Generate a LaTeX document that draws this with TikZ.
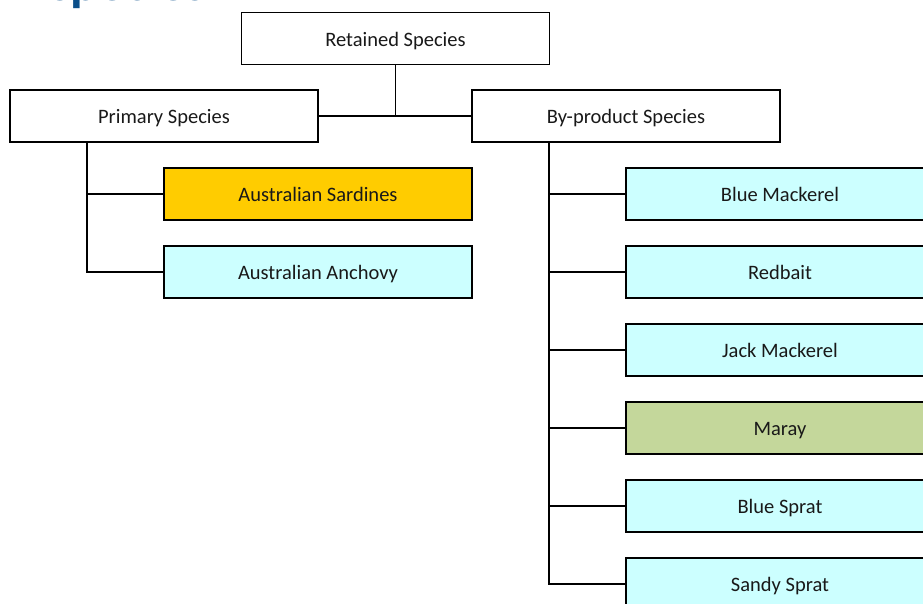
\documentclass[tikz,border=0pt]{standalone}
\usepackage{fontspec}
\setmainfont{Carlito}
\definecolor{cyanbox}{HTML}{CCFFFF}
\definecolor{yellowbox}{HTML}{FFCC00}
\definecolor{greenbox}{HTML}{C4D79B}
\definecolor{titleblue}{HTML}{0B4F8A}
\begin{document}
\begin{tikzpicture}[x=1pt,y=-1pt,
  box/.style={draw=black, line width=1.3pt, fill=white, minimum width=308pt, minimum height=52pt, inner sep=0pt, text height=16pt, text depth=1pt, font=\fontsize{20.5}{22}\selectfont, text=black!90},
  link/.style={draw=black, line width=1.2pt}]
\useasboundingbox (0,0) rectangle (923,603);
\clip (0,0) rectangle (923,603);
\node[anchor=base west, inner sep=0pt, text=titleblue, font=\bfseries\fontsize{52}{60}\selectfont] (title) at (50,0.9) {species};
\node[box] (ret) at (395.5,38.5) {Retained Species};
\node[box] (prim) at (164,116) {Primary Species};
\node[box] (byp) at (626,116) {By-product Species};
\node[box, fill=yellowbox] (sard) at (318,194) {Australian Sardines};
\node[box, fill=cyanbox] (anch) at (318,272) {Australian Anchovy};
\node[box, fill=cyanbox] (bm) at (780,194) {Blue Mackerel};
\node[box, fill=cyanbox] (rb) at (780,272) {Redbait};
\node[box, fill=cyanbox] (jm) at (780,350) {Jack Mackerel};
\node[box, fill=greenbox] (mar) at (780,428) {Maray};
\node[box, fill=cyanbox] (bs) at (780,506) {Blue Sprat};
\node[box, fill=cyanbox] (ss) at (780,584) {Sandy Sprat};
% top connectors
\coordinate (mid) at (ret.south |- prim.east);
\draw[link] (ret.south) -- (mid);
\draw[link] (prim.east) -- (byp.west);
% primary branch
\coordinate (pv) at (87,142);
\draw[link] (pv) -- (pv |- anch.west) -- (anch.west);
\draw[link] (pv |- sard.west) -- (sard.west);
% by-product branch
\coordinate (bv) at (549,142);
\draw[link] (bv) -- (bv |- ss.west) -- (ss.west);
\foreach \n in {bm,rb,jm,mar,bs}{
  \draw[link] (bv |- \n.west) -- (\n.west);
}
\end{tikzpicture}
\end{document}
